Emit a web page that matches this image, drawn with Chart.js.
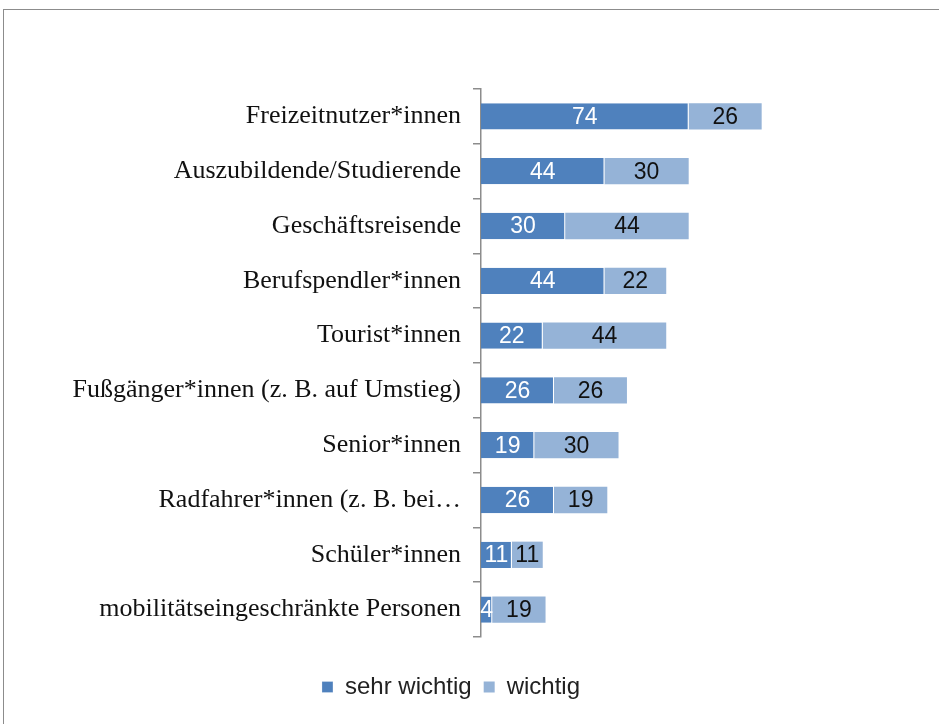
<!DOCTYPE html>
<html>
<head>
<meta charset="utf-8">
<script src="https://cdn.jsdelivr.net/npm/chart.js@4/dist/chart.umd.min.js"></script>
<style>
  body { margin: 0; background: #fff; }
  #frame { position: absolute; left: 3px; top: 9px; width: 1000px; height: 800px; border: 1px solid #8c8c8c; border-width: 1.5px 0 0 1.5px; }
  #wrap { position: absolute; left: 0; top: 0; width: 939px; height: 724px; }
</style>
</head>
<body>
<div id="frame"></div>
<div id="wrap"><canvas id="chart" width="939" height="724"></canvas></div>
<script>
const categories = [
  'Freizeitnutzer*innen',
  'Auszubildende/Studierende',
  'Geschäftsreisende',
  'Berufspendler*innen',
  'Tourist*innen',
  'Fußgänger*innen (z. B. auf Umstieg)',
  'Senior*innen',
  'Radfahrer*innen (z. B. bei…',
  'Schüler*innen',
  'mobilitätseingeschränkte Personen'
];
const sehrWichtig = [74, 44, 30, 44, 22, 26, 19, 26, 11, 4];
const wichtig = [26, 30, 44, 22, 44, 26, 30, 19, 11, 19];

const barLabels = {
  id: 'barLabels',
  afterDatasetsDraw(chart) {
    const ctx = chart.ctx;
    ctx.save();
    ctx.font = '23px "Liberation Sans", Arial, sans-serif';
    ctx.textAlign = 'center';
    ctx.textBaseline = 'middle';
    chart.data.datasets.forEach((ds, i) => {
      const meta = chart.getDatasetMeta(i);
      meta.data.forEach((bar, j) => {
        ctx.fillStyle = i === 0 ? '#ffffff' : '#111111';
        ctx.fillText(ds.data[j], (bar.x + bar.base) / 2, bar.y + 1);
      });
    });
    ctx.restore();
  }
};

new Chart(document.getElementById('chart').getContext('2d'), {
  type: 'bar',
  data: {
    labels: categories,
    datasets: [
      { label: 'sehr wichtig', data: sehrWichtig, backgroundColor: '#4f81bd', borderColor: '#ffffff', borderWidth: { right: 1 }, borderSkipped: false },
      { label: 'wichtig', data: wichtig, backgroundColor: '#95b3d7', borderColor: '#ffffff', borderWidth: 0 }
    ]
  },
  options: {
    indexAxis: 'y',
    responsive: false,
    animation: false,
    maintainAspectRatio: false,
    layout: { padding: { top: 89, right: 37, bottom: 15, left: 0 } },
    datasets: { bar: { categoryPercentage: 0.48, barPercentage: 1 } },
    scales: {
      x: {
        stacked: true, min: 0, max: 150,
        ticks: { display: false },
        grid: { display: false },
        border: { display: false },
        afterFit: (s) => { s.height = 26; }
      },
      y: {
        stacked: true,
        grid: { offset: true, drawOnChartArea: false, tickLength: 8, color: '#8c8c8c', lineWidth: 1.5 },
        border: { color: '#8c8c8c', width: 1.5 },
        ticks: { color: '#111', padding: 12, font: { family: '"Liberation Serif", "Times New Roman", serif', size: 26 } },
        afterFit: (s) => { s.width = 481; }
      }
    },
    plugins: {
      legend: {
        position: 'bottom',
        labels: { boxWidth: 11, boxHeight: 11, padding: 12, color: '#222', font: { family: '"Liberation Sans", Arial, sans-serif', size: 24 } }
      },
      tooltip: { enabled: false }
    }
  },
  plugins: [barLabels]
});
</script>
</body>
</html>
